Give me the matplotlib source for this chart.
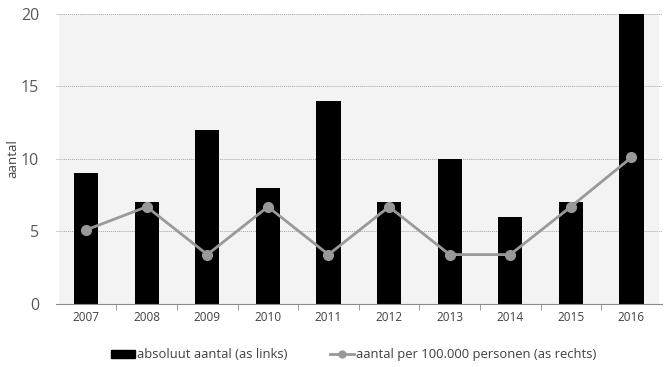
import matplotlib.pyplot as plt
from matplotlib.patches import Rectangle
from matplotlib.lines import Line2D
from matplotlib.patches import Patch
import numpy as np

plt.rcParams['font.family'] = ['Open Sans', 'DejaVu Sans']

years = ['2007', '2008', '2009', '2010', '2011', '2012', '2013', '2014', '2015', '2016']
absoluut = [9, 7, 12, 8, 14, 7, 10, 6, 7, 20]
per_100k = [5.1, 6.7, 3.4, 6.7, 3.4, 6.7, 3.4, 3.4, 6.7, 10.1]

x = np.arange(len(years))

fig = plt.figure(figsize=[6.65, 3.67], dpi=100)
ax = fig.add_axes([0.084, 0.172, 0.911, 0.79])

# light gray plot background, a bit inset from the gridlines
ax.add_patch(Rectangle((0.005, 0), 0.99, 1, transform=ax.transAxes,
                       facecolor='#f3f3f3', edgecolor='none', zorder=0))

ax.bar(x, absoluut, width=0.4, color='black', zorder=2)
ax.set_xlim(-0.5, len(years) - 0.5)
ax.set_ylim(0, 20)
ax.set_yticks([0, 5, 10, 15, 20])
ax.grid(axis='y', linestyle=(0, (1, 1)), color='#a6a6a6', linewidth=0.7, zorder=1)
ax.set_axisbelow(True)

for s in ['top', 'right', 'left']:
    ax.spines[s].set_visible(False)
ax.spines['bottom'].set_color('#8c8c8c')
ax.spines['bottom'].set_zorder(3)

ax.set_xticks(x)
ax.set_xticklabels(years)
ax.set_xticks(np.arange(0.5, len(years) - 1, 1), minor=True)
ax.tick_params(axis='x', which='major', length=0, labelsize=8.5, labelcolor='#404040', pad=5)
ax.tick_params(axis='x', which='minor', length=4, color='#8c8c8c', direction='out')
ax.tick_params(axis='y', length=0, labelsize=11.5, labelcolor='#595959', pad=12)
ax.set_ylabel('aantal', fontsize=9.5, color='#404040', labelpad=1)

ax2 = ax.twinx()
ax2.plot(x, per_100k, color='#999999', linewidth=2, marker='o', markersize=7, zorder=3)
ax2.set_ylim(0, 20)
ax2.set_yticks([])
for s in ax2.spines.values():
    s.set_visible(False)

handles = [Patch(facecolor='black', edgecolor='black'),
           Line2D([], [], color='#999999', linewidth=2, marker='o', markersize=5)]
labels = ['absoluut aantal (as links)', 'aantal per 100.000 personen (as rechts)']
fig.legend(handles, labels, loc='center', bbox_to_anchor=(0.532, 0.033), ncol=2,
           frameon=False, fontsize=9.4, labelcolor='#404040', handlelength=1.85,
           handletextpad=0.15, columnspacing=3.2, handleheight=0.55)

fig.savefig('out.png', dpi=100)
